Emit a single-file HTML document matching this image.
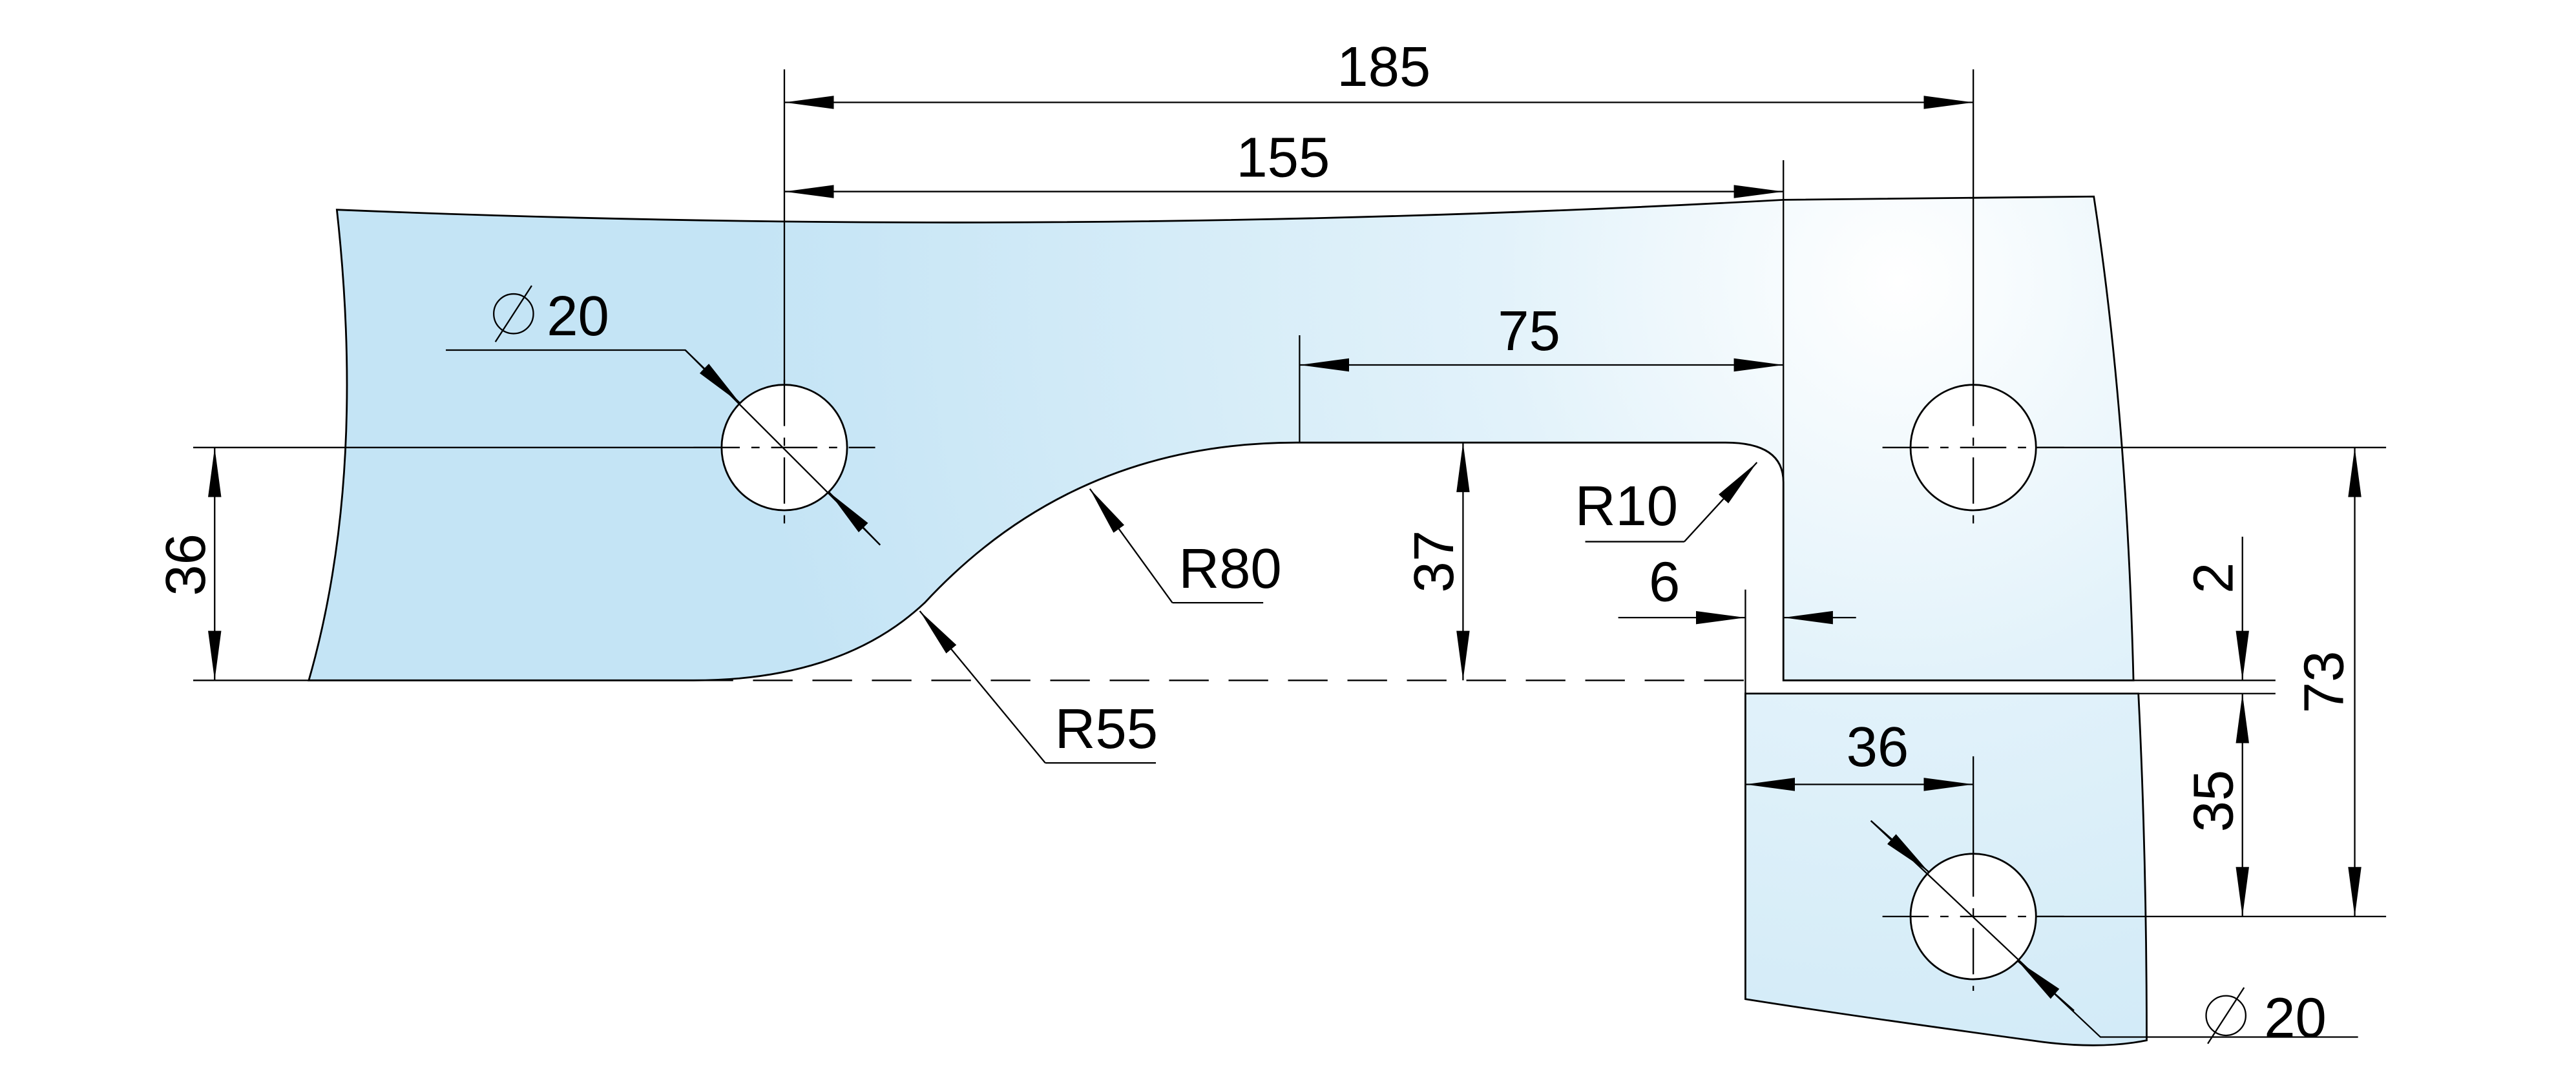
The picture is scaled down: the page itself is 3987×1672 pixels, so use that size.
<!DOCTYPE html>
<html><head><meta charset="utf-8"><style>
html,body{margin:0;padding:0;background:#fff;width:3987px;height:1672px;overflow:hidden}
svg{display:block}
text{font-family:"Liberation Sans Narrow","Liberation Sans",sans-serif;font-size:34px;fill:#000}
</style></head><body>
<svg width="3987" height="1672" viewBox="0 0 1560 654" preserveAspectRatio="none" xmlns="http://www.w3.org/2000/svg">
<defs>
<radialGradient id="g" cx="1150" cy="170" r="700" gradientUnits="userSpaceOnUse">
<stop offset="0" stop-color="#ffffff"/><stop offset="0.35" stop-color="#e2f2fa"/><stop offset="1" stop-color="#c4e4f5"/>
</radialGradient>
<marker id="a" markerUnits="userSpaceOnUse" markerWidth="32" markerHeight="12" refX="30" refY="5" orient="auto-start-reverse">
<path d="M0,1 L30,5 L0,9 Z" fill="#000"/></marker>
</defs>
<g stroke="#000" stroke-width="1.1">
<!-- upper plate -->
<path fill="url(#g)" fill-rule="evenodd" d="M204,127 Q640,145 1080,121 L1268,119 Q1288,250 1292,412 L1080,412 L1080,292 Q1080,268 1045,268 L785,268 Q650,268 560,365 Q510,412 420,412 L187,412 Q222,290 204,127 Z
M513,271 A38,38 0 1 0 437,271 A38,38 0 1 0 513,271 Z M1233,271 A38,38 0 1 0 1157,271 A38,38 0 1 0 1233,271 Z"/>
<!-- lower plate -->
<path fill="url(#g)" fill-rule="evenodd" d="M1057,420 L1295,420 Q1300,520 1300,630 Q1270,636 1230,630 Q1120,615 1057,605 Z M1233,555 A38,38 0 1 0 1157,555 A38,38 0 1 0 1233,555 Z"/>
</g>
<g stroke="#000" stroke-width="0.9" fill="none">
<!-- center lines -->
<g stroke-dasharray="28,7,5,7">
<line x1="420" y1="271" x2="530" y2="271"/><line x1="1140" y1="271" x2="1250" y2="271"/>
<line x1="1140" y1="555" x2="1250" y2="555"/>
<line x1="1195" y1="230" x2="1195" y2="320"/><line x1="1195" y1="515" x2="1195" y2="600"/>
<line x1="475" y1="230" x2="475" y2="320"/>
</g>
<line x1="420" y1="412" x2="1057" y2="412" stroke-dasharray="24,12"/>
<!-- extension lines -->
<line x1="475" y1="42" x2="475" y2="232"/>
<line x1="1195" y1="42" x2="1195" y2="232"/>
<line x1="1080" y1="97" x2="1080" y2="412"/>
<line x1="787" y1="203" x2="787" y2="268"/>
<line x1="117" y1="271" x2="437" y2="271"/>
<line x1="117" y1="412" x2="187" y2="412"/>
<line x1="1233" y1="271" x2="1445" y2="271"/>
<line x1="1233" y1="555" x2="1445" y2="555"/>
<line x1="1292" y1="412" x2="1378" y2="412"/>
<line x1="1295" y1="420" x2="1378" y2="420"/>
<line x1="1057" y1="357" x2="1057" y2="420"/>
<line x1="1195" y1="458" x2="1195" y2="517"/>
<!-- dimension lines -->
<line x1="475" y1="62" x2="1195" y2="62" marker-start="url(#a)" marker-end="url(#a)"/>
<line x1="475" y1="116" x2="1080" y2="116" marker-start="url(#a)" marker-end="url(#a)"/>
<line x1="787" y1="221" x2="1080" y2="221" marker-start="url(#a)" marker-end="url(#a)"/>
<line x1="130" y1="271" x2="130" y2="412" marker-start="url(#a)" marker-end="url(#a)"/>
<line x1="886" y1="268" x2="886" y2="412" marker-start="url(#a)" marker-end="url(#a)"/>
<line x1="1426" y1="271" x2="1426" y2="555" marker-start="url(#a)" marker-end="url(#a)"/>
<line x1="1358" y1="420" x2="1358" y2="555" marker-start="url(#a)" marker-end="url(#a)"/>
<line x1="1358" y1="325" x2="1358" y2="412" marker-end="url(#a)"/>
<line x1="1057" y1="475" x2="1195" y2="475" marker-start="url(#a)" marker-end="url(#a)"/>
<line x1="980" y1="374" x2="1057" y2="374" marker-end="url(#a)"/>
<line x1="1124" y1="374" x2="1080" y2="374" marker-end="url(#a)"/>
<!-- leaders -->
<path d="M710,365 L660,296" marker-end="url(#a)"/><line x1="710" y1="365" x2="765" y2="365"/>
<path d="M633,462 L557,370" marker-end="url(#a)"/><line x1="633" y1="462" x2="700" y2="462"/>
<path d="M1020,328 L1064,280" marker-end="url(#a)"/><line x1="960" y1="328" x2="1020" y2="328"/>
<polyline points="270,212 415,212 533,330"/>
<line x1="415" y1="212" x2="448" y2="244" marker-end="url(#a)"/>
<line x1="533" y1="330" x2="502" y2="298" marker-end="url(#a)"/>
<polyline points="1133,497 1272,628 1428,628"/>
<line x1="1133" y1="497" x2="1168" y2="528" marker-end="url(#a)"/>
<line x1="1256" y1="612" x2="1222" y2="582" marker-end="url(#a)"/>
<!-- diameter symbols -->
<circle cx="311" cy="190" r="12"/><line x1="300" y1="207" x2="322" y2="173"/>
<circle cx="1348" cy="615" r="12"/><line x1="1337" y1="632" x2="1359" y2="598"/>
</g>
<text x="838" y="52" text-anchor="middle">185</text>
<text x="777" y="107" text-anchor="middle">155</text>
<text x="926" y="212" text-anchor="middle">75</text>
<text x="350" y="203" text-anchor="middle">20</text>
<text x="1390" y="628" text-anchor="middle">20</text>
<text x="745" y="356" text-anchor="middle" font-size="30">R80</text>
<text x="670" y="453" text-anchor="middle" font-size="30">R55</text>
<text x="985" y="318" text-anchor="middle" font-size="30">R10</text>
<text x="1008" y="364" text-anchor="middle">6</text>
<text x="1137" y="464" text-anchor="middle">36</text>
<text transform="translate(124,342) rotate(-90)" text-anchor="middle">36</text>
<text transform="translate(880,340) rotate(-90)" text-anchor="middle">37</text>
<text transform="translate(1352,350) rotate(-90)" text-anchor="middle">2</text>
<text transform="translate(1352,485) rotate(-90)" text-anchor="middle">35</text>
<text transform="translate(1419,413) rotate(-90)" text-anchor="middle">73</text>
</svg>
</body></html>
